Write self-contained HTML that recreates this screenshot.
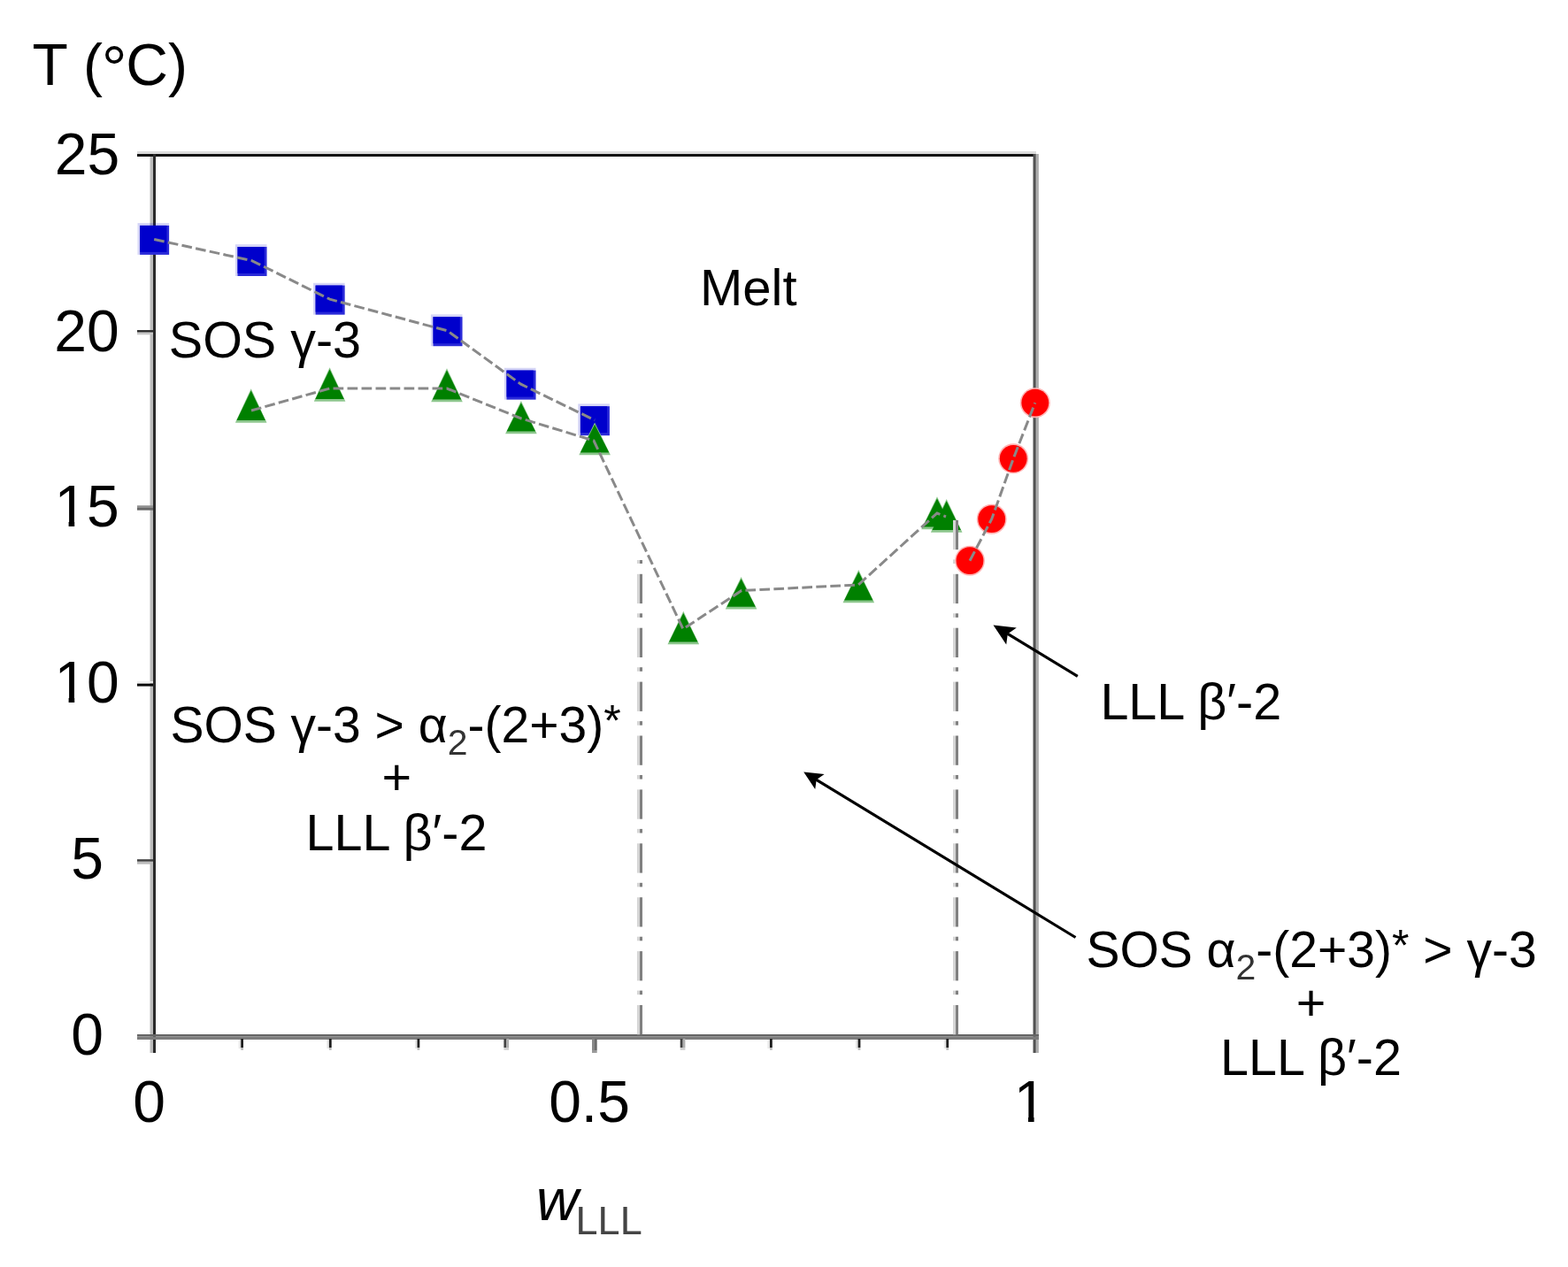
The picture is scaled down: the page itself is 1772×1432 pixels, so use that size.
<!DOCTYPE html>
<html><head><meta charset="utf-8"><title>Phase diagram</title>
<style>html,body{margin:0;padding:0;background:#fff;}svg{display:block;}</style></head>
<body><svg width="1772" height="1432" viewBox="0 0 1772 1432">
<rect width="1772" height="1432" fill="#fff"/>
<rect x="155" y="171" width="1016" height="3" fill="#dcdcdc"/>
<rect x="155" y="174" width="1016" height="3" fill="#111"/>
<rect x="169.5" y="177" width="3.5" height="1013" fill="#bbb"/>
<rect x="173" y="174" width="3" height="1016" fill="#2a2a2a"/>
<rect x="1167.5" y="174" width="2.5" height="1016" fill="#525252"/>
<rect x="1170" y="174" width="1.5" height="1016" fill="#7a7a7a"/>
<rect x="1171.5" y="174" width="2.3" height="1016" fill="#a8a8a8"/>
<rect x="155" y="1169" width="1019" height="2.5" fill="#656565"/>
<rect x="155" y="1171.5" width="1019" height="3.5" fill="#7c7c7c"/>
<rect x="155" y="373.1" width="18" height="2.6" fill="#2a2a2a"/><rect x="155" y="375.7" width="18" height="2.6" fill="#c8c8c8"/>
<rect x="155" y="571.3" width="18" height="2.7" fill="#909090"/><rect x="155" y="574" width="18" height="2.7" fill="#686868"/>
<rect x="155" y="770" width="18" height="1.8" fill="#eeeeee"/><rect x="155" y="772.6" width="18" height="3" fill="#0a0a0a"/>
<rect x="155" y="971.2" width="18" height="2.6" fill="#404040"/><rect x="155" y="973.8" width="18" height="2.9" fill="#bbbbbb"/>
<rect x="269.7" y="1175" width="2.5" height="10" fill="#e6e6e6"/><rect x="272.2" y="1174" width="2.8" height="10" fill="#1e1e1e"/><rect x="272.2" y="1184" width="2.8" height="2.8" fill="#bbb"/>
<rect x="369.4" y="1175" width="2.5" height="10" fill="#e6e6e6"/><rect x="371.9" y="1174" width="2.8" height="10" fill="#1e1e1e"/><rect x="371.9" y="1184" width="2.8" height="2.8" fill="#bbb"/>
<rect x="469.0" y="1175" width="2.5" height="10" fill="#e6e6e6"/><rect x="471.5" y="1174" width="2.8" height="10" fill="#1e1e1e"/><rect x="471.5" y="1184" width="2.8" height="2.8" fill="#bbb"/>
<rect x="569.4" y="1174" width="3" height="10" fill="#444"/><rect x="572.4" y="1174" width="2.7" height="10" fill="#b0b0b0"/><rect x="569.4" y="1184" width="5.7" height="2.8" fill="#cfcfcf"/>
<rect x="669" y="1174" width="3" height="13" fill="#888"/><rect x="672" y="1174" width="2.7" height="13" fill="#6a6a6a"/><rect x="669" y="1187" width="5.7" height="3" fill="#9a9a9a"/>
<rect x="768.7" y="1174" width="3" height="10" fill="#444"/><rect x="771.7" y="1174" width="2.7" height="10" fill="#b0b0b0"/><rect x="768.7" y="1184" width="5.7" height="2.8" fill="#cfcfcf"/>
<rect x="867.5" y="1175" width="2.5" height="10" fill="#e6e6e6"/><rect x="870.0" y="1174" width="2.8" height="10" fill="#1e1e1e"/><rect x="870.0" y="1184" width="2.8" height="2.8" fill="#bbb"/>
<rect x="967.1" y="1175" width="2.5" height="10" fill="#e6e6e6"/><rect x="969.6" y="1174" width="2.8" height="10" fill="#1e1e1e"/><rect x="969.6" y="1184" width="2.8" height="2.8" fill="#bbb"/>
<rect x="1066.8" y="1175" width="2.5" height="10" fill="#e6e6e6"/><rect x="1069.3" y="1174" width="2.8" height="10" fill="#1e1e1e"/><rect x="1069.3" y="1184" width="2.8" height="2.8" fill="#bbb"/>
<rect x="155.5" y="252.1" width="35.6" height="35.8" fill="#0000cc" fill-opacity="0.17"/>
<rect x="158.1" y="254.9" width="33" height="33" fill="#2a2ad8"/>
<rect x="158.1" y="254.9" width="30.3" height="30" fill="#0000cc"/>
<rect x="265.9" y="276.2" width="35.6" height="35.8" fill="#0000cc" fill-opacity="0.17"/>
<rect x="268.5" y="279.0" width="33" height="33" fill="#2a2ad8"/>
<rect x="268.5" y="279.0" width="30.3" height="30" fill="#0000cc"/>
<rect x="354.0" y="319.8" width="35.6" height="35.8" fill="#0000cc" fill-opacity="0.17"/>
<rect x="356.6" y="322.6" width="33" height="33" fill="#2a2ad8"/>
<rect x="356.6" y="322.6" width="30.3" height="30" fill="#0000cc"/>
<rect x="486.9" y="355.4" width="35.6" height="35.8" fill="#0000cc" fill-opacity="0.17"/>
<rect x="489.5" y="358.2" width="33" height="33" fill="#2a2ad8"/>
<rect x="489.5" y="358.2" width="30.3" height="30" fill="#0000cc"/>
<rect x="569.9" y="415.8" width="35.6" height="35.8" fill="#0000cc" fill-opacity="0.17"/>
<rect x="572.5" y="418.6" width="33" height="33" fill="#2a2ad8"/>
<rect x="572.5" y="418.6" width="30.3" height="30" fill="#0000cc"/>
<rect x="653.3" y="456.4" width="35.6" height="35.8" fill="#0000cc" fill-opacity="0.17"/>
<rect x="655.9" y="459.2" width="33" height="33" fill="#2a2ad8"/>
<rect x="655.9" y="459.2" width="30.3" height="30" fill="#0000cc"/>
<polygon points="283.7,439.2 301.5,477.7 265.9,477.7" fill="#8cc68c"/>
<polygon points="372.6,415.2 390.4,453.7 354.8,453.7" fill="#8cc68c"/>
<polygon points="505.0,416.2 522.8,454.2 487.2,454.2" fill="#8cc68c"/>
<polygon points="588.9,452.9 606.7,490.2 571.1,490.2" fill="#8cc68c"/>
<polygon points="672.1,477.4 689.9,514.2 654.3,514.2" fill="#8cc68c"/>
<polygon points="772.3,690.7 790.1,728.2 754.5,728.2" fill="#8cc68c"/>
<polygon points="837.6,652.0 855.4,688.5 819.8,688.5" fill="#8cc68c"/>
<polygon points="970.3,643.9 988.1,681.2 952.5,681.2" fill="#8cc68c"/>
<polygon points="1059.0,561.2 1076.8,598.2 1041.2,598.2" fill="#8cc68c"/>
<polygon points="1069.7,564.0 1087.5,601.8 1051.9,601.8" fill="#8cc68c"/>
<polygon points="283.7,441.5 299.9,474.9 267.5,474.9" fill="#008000"/>
<polygon points="372.6,417.5 388.8,450.9 356.4,450.9" fill="#008000"/>
<polygon points="505.0,418.5 521.2,451.4 488.8,451.4" fill="#008000"/>
<polygon points="588.9,455.2 605.1,487.4 572.7,487.4" fill="#008000"/>
<polygon points="672.1,479.7 688.3,511.4 655.9,511.4" fill="#008000"/>
<polygon points="772.3,693.0 788.5,725.4 756.1,725.4" fill="#008000"/>
<polygon points="837.6,654.3 853.8,685.7 821.4,685.7" fill="#008000"/>
<polygon points="970.3,646.2 986.5,678.4 954.1,678.4" fill="#008000"/>
<polygon points="1059.0,563.5 1075.2,595.4 1042.8,595.4" fill="#008000"/>
<polygon points="1069.7,566.3 1085.9,599.0 1053.5,599.0" fill="#008000"/>
<rect x="720" y="648.8" width="3" height="33.3" fill="#d5d5d5"/>
<rect x="723" y="648.8" width="3" height="33.3" fill="#808080"/>
<rect x="720" y="633.0" width="3" height="4.0" fill="#d5d5d5"/>
<rect x="723" y="633.0" width="3" height="4.0" fill="#808080"/>
<rect x="720" y="709.7" width="3" height="33.3" fill="#d5d5d5"/>
<rect x="723" y="709.7" width="3" height="33.3" fill="#808080"/>
<rect x="720" y="693.3" width="3" height="4.6" fill="#d5d5d5"/>
<rect x="723" y="693.3" width="3" height="4.6" fill="#808080"/>
<rect x="720" y="770.6" width="3" height="33.3" fill="#d5d5d5"/>
<rect x="723" y="770.6" width="3" height="33.3" fill="#808080"/>
<rect x="720" y="754.2" width="3" height="4.6" fill="#d5d5d5"/>
<rect x="723" y="754.2" width="3" height="4.6" fill="#808080"/>
<rect x="720" y="831.5" width="3" height="33.3" fill="#d5d5d5"/>
<rect x="723" y="831.5" width="3" height="33.3" fill="#808080"/>
<rect x="720" y="815.1" width="3" height="4.6" fill="#d5d5d5"/>
<rect x="723" y="815.1" width="3" height="4.6" fill="#808080"/>
<rect x="720" y="892.4" width="3" height="33.3" fill="#d5d5d5"/>
<rect x="723" y="892.4" width="3" height="33.3" fill="#808080"/>
<rect x="720" y="876.0" width="3" height="4.6" fill="#d5d5d5"/>
<rect x="723" y="876.0" width="3" height="4.6" fill="#808080"/>
<rect x="720" y="953.3" width="3" height="33.3" fill="#d5d5d5"/>
<rect x="723" y="953.3" width="3" height="33.3" fill="#808080"/>
<rect x="720" y="936.9" width="3" height="4.6" fill="#d5d5d5"/>
<rect x="723" y="936.9" width="3" height="4.6" fill="#808080"/>
<rect x="720" y="1014.2" width="3" height="33.3" fill="#d5d5d5"/>
<rect x="723" y="1014.2" width="3" height="33.3" fill="#808080"/>
<rect x="720" y="997.8" width="3" height="4.6" fill="#d5d5d5"/>
<rect x="723" y="997.8" width="3" height="4.6" fill="#808080"/>
<rect x="720" y="1075.1" width="3" height="33.3" fill="#d5d5d5"/>
<rect x="723" y="1075.1" width="3" height="33.3" fill="#808080"/>
<rect x="720" y="1058.7" width="3" height="4.6" fill="#d5d5d5"/>
<rect x="723" y="1058.7" width="3" height="4.6" fill="#808080"/>
<rect x="720" y="1136.0" width="3" height="33.3" fill="#d5d5d5"/>
<rect x="723" y="1136.0" width="3" height="33.3" fill="#808080"/>
<rect x="720" y="1119.6" width="3" height="4.6" fill="#d5d5d5"/>
<rect x="723" y="1119.6" width="3" height="4.6" fill="#808080"/>
<rect x="1077" y="587.9" width="3" height="33.3" fill="#d5d5d5"/>
<rect x="1080" y="587.9" width="3" height="33.3" fill="#808080"/>
<rect x="1077" y="648.8" width="3" height="33.3" fill="#d5d5d5"/>
<rect x="1080" y="648.8" width="3" height="33.3" fill="#808080"/>
<rect x="1077" y="632.4" width="3" height="4.6" fill="#d5d5d5"/>
<rect x="1080" y="632.4" width="3" height="4.6" fill="#808080"/>
<rect x="1077" y="709.7" width="3" height="33.3" fill="#d5d5d5"/>
<rect x="1080" y="709.7" width="3" height="33.3" fill="#808080"/>
<rect x="1077" y="693.3" width="3" height="4.6" fill="#d5d5d5"/>
<rect x="1080" y="693.3" width="3" height="4.6" fill="#808080"/>
<rect x="1077" y="770.6" width="3" height="33.3" fill="#d5d5d5"/>
<rect x="1080" y="770.6" width="3" height="33.3" fill="#808080"/>
<rect x="1077" y="754.2" width="3" height="4.6" fill="#d5d5d5"/>
<rect x="1080" y="754.2" width="3" height="4.6" fill="#808080"/>
<rect x="1077" y="831.5" width="3" height="33.3" fill="#d5d5d5"/>
<rect x="1080" y="831.5" width="3" height="33.3" fill="#808080"/>
<rect x="1077" y="815.1" width="3" height="4.6" fill="#d5d5d5"/>
<rect x="1080" y="815.1" width="3" height="4.6" fill="#808080"/>
<rect x="1077" y="892.4" width="3" height="33.3" fill="#d5d5d5"/>
<rect x="1080" y="892.4" width="3" height="33.3" fill="#808080"/>
<rect x="1077" y="876.0" width="3" height="4.6" fill="#d5d5d5"/>
<rect x="1080" y="876.0" width="3" height="4.6" fill="#808080"/>
<rect x="1077" y="953.3" width="3" height="33.3" fill="#d5d5d5"/>
<rect x="1080" y="953.3" width="3" height="33.3" fill="#808080"/>
<rect x="1077" y="936.9" width="3" height="4.6" fill="#d5d5d5"/>
<rect x="1080" y="936.9" width="3" height="4.6" fill="#808080"/>
<rect x="1077" y="1014.2" width="3" height="33.3" fill="#d5d5d5"/>
<rect x="1080" y="1014.2" width="3" height="33.3" fill="#808080"/>
<rect x="1077" y="997.8" width="3" height="4.6" fill="#d5d5d5"/>
<rect x="1080" y="997.8" width="3" height="4.6" fill="#808080"/>
<rect x="1077" y="1075.1" width="3" height="33.3" fill="#d5d5d5"/>
<rect x="1080" y="1075.1" width="3" height="33.3" fill="#808080"/>
<rect x="1077" y="1058.7" width="3" height="4.6" fill="#d5d5d5"/>
<rect x="1080" y="1058.7" width="3" height="4.6" fill="#808080"/>
<rect x="1077" y="1136.0" width="3" height="33.3" fill="#d5d5d5"/>
<rect x="1080" y="1136.0" width="3" height="33.3" fill="#808080"/>
<rect x="1077" y="1119.6" width="3" height="4.6" fill="#d5d5d5"/>
<rect x="1080" y="1119.6" width="3" height="4.6" fill="#808080"/>
<circle cx="1096" cy="633.7" r="17" fill="#ffb4b4"/>
<circle cx="1096" cy="633.7" r="15.4" fill="#ff0000"/>
<circle cx="1120.7" cy="586.7" r="17" fill="#ffb4b4"/>
<circle cx="1120.7" cy="586.7" r="15.4" fill="#ff0000"/>
<circle cx="1145.2" cy="518.3" r="17" fill="#ffb4b4"/>
<circle cx="1145.2" cy="518.3" r="15.4" fill="#ff0000"/>
<circle cx="1169.8" cy="455.2" r="17" fill="#ffb4b4"/>
<circle cx="1169.8" cy="455.2" r="15.4" fill="#ff0000"/>
<polyline points="174.2,270.5 284.6,294.6 372.7,338.2 505.6,373.8 588.6,434.2 672.0,474.8" stroke="#898989" stroke-width="3" stroke-dasharray="11.7 4.3" fill="none"/>
<polyline points="284.0,464.0 372.6,439.0 505.0,439.0 589.0,473.0 671.0,498.0 772.0,711.0 838.0,667.5 970.0,661.0 1059.0,580.0 1069.0,584.0" stroke="#898989" stroke-width="3" stroke-dasharray="11.7 4.3" fill="none"/>
<polyline points="1096.0,633.7 1120.7,586.7 1145.2,518.3 1169.8,455.2" stroke="#898989" stroke-width="3" stroke-dasharray="11.7 4.3" fill="none"/>
<line x1="1138.4" y1="716.1" x2="1217.8" y2="764.3" stroke="#000" stroke-width="3.2"/><polygon points="1122.5,706.5 1137.2,728.5 1138.8,716.4 1148.8,709.4" fill="#000"/>
<line x1="922.3" y1="881.1" x2="1215.5" y2="1059.5" stroke="#000" stroke-width="3.2"/><polygon points="908.2,872.5 921.2,892.1 922.7,881.3 931.6,875.1" fill="#000"/>
<defs><clipPath id="c15" clipPathUnits="userSpaceOnUse"><rect x="31.4" y="475" width="139.2" height="115.0"/><rect x="77.6" y="575" width="6.6" height="40"/><rect x="98.1" y="475" width="79.2" height="160"/></clipPath><clipPath id="c10" clipPathUnits="userSpaceOnUse"><rect x="31.4" y="674" width="139.2" height="115.0"/><rect x="77.6" y="774" width="6.6" height="40"/><rect x="98.1" y="674" width="79.2" height="160"/></clipPath><clipPath id="c1" clipPathUnits="userSpaceOnUse"><rect x="1115.8" y="1148" width="99.6" height="115.0"/><rect x="1162.0" y="1248" width="6.6" height="40"/></clipPath></defs>
<g font-family="'Liberation Sans', sans-serif" fill="#000"><text x="36.5" y="96" font-size="66" text-anchor="start" >T (<tspan font-size="72" dx="-1.2" dy="5.5">°</tspan><tspan dx="-1.2" dy="-5.5">C)</tspan></text>
<text x="98.5" y="197.2" font-size="66" text-anchor="middle" >25</text>
<text x="98" y="396.5" font-size="66" text-anchor="middle" >20</text>
<text x="98.5" y="992.5" font-size="66" text-anchor="middle" >5</text>
<text x="98.5" y="1192" font-size="66" text-anchor="middle" >0</text>
<text x="61.4" y="595" font-size="66" clip-path="url(#c15)">15</text>
<text x="61.4" y="794" font-size="66" clip-path="url(#c10)">10</text>
<text x="1145.8" y="1268" font-size="66" clip-path="url(#c1)">1</text>
<text x="168.5" y="1267.5" font-size="66" text-anchor="middle" >0</text>
<text x="666" y="1267.5" font-size="66" text-anchor="middle" >0.5</text>
<text x="606" y="1379" font-size="66" font-style="italic">w</text>
<text x="650.6" y="1394.5" font-size="45" fill="#444">LLL</text>
<text x="791" y="345" font-size="58" text-anchor="start" >Melt</text>
<text x="190.8" y="404.3" font-size="57.5" text-anchor="start" >SOS γ-3</text>
<text x="447" y="839" font-size="57" text-anchor="middle" >SOS γ-3 &gt; α<tspan font-size="41" dy="13.8" fill="#333">2</tspan><tspan dy="-13.8">-(2+3)</tspan><tspan font-size="50" dy="-7">*</tspan></text>
<text x="448.3" y="898" font-size="57.5" text-anchor="middle" >+</text>
<text x="448" y="961" font-size="57.5" text-anchor="middle" >LLL β′-2</text>
<text x="1243.4" y="813.2" font-size="57.5" text-anchor="start" >LLL β′-2</text>
<text x="1482" y="1093" font-size="57" text-anchor="middle" >SOS α<tspan font-size="41" dy="13.8" fill="#333">2</tspan><tspan dy="-13.8">-(2+3)</tspan><tspan font-size="50" dy="-7">*</tspan><tspan dy="7"> &gt; γ-3</tspan></text>
<text x="1481.5" y="1152.5" font-size="57.5" text-anchor="middle" >+</text>
<text x="1481.5" y="1214.5" font-size="57.5" text-anchor="middle" >LLL β′-2</text></g>
</svg></body></html>
